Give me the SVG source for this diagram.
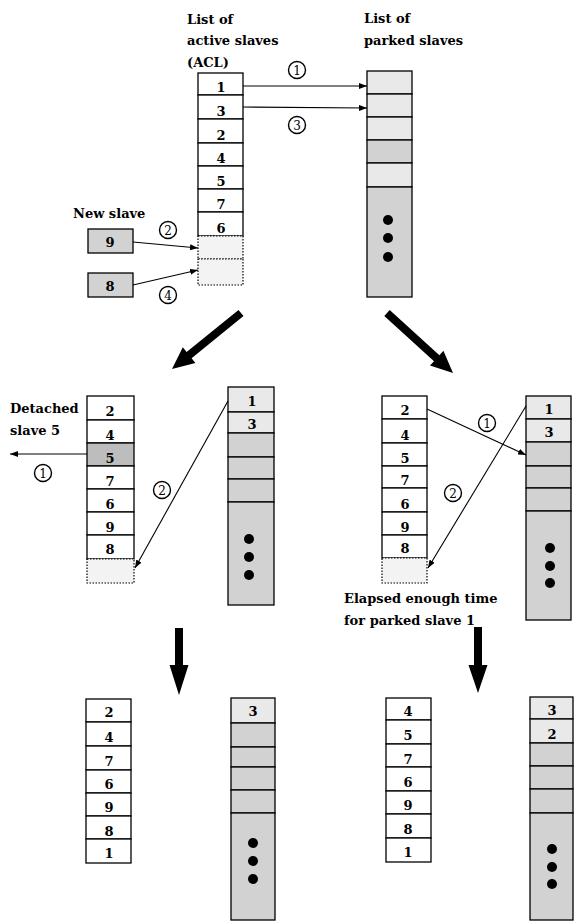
<svg xmlns="http://www.w3.org/2000/svg" width="574" height="922" viewBox="0 0 574 922">
<style>
.cell{fill:#fff;stroke:#000;stroke-width:1.3}
.light{fill:#e9e9e9;stroke:#000;stroke-width:1.3}
.grey{fill:#d2d2d2;stroke:#000;stroke-width:1.3}
.dark{fill:#bdbdbd;stroke:#000;stroke-width:1.3}
.empty{fill:#f3f3f3;stroke:#000;stroke-width:1.2;stroke-dasharray:1.5 1.5}
.num{font-family:"DejaVu Serif","Liberation Serif",serif;font-weight:bold;font-size:13px;text-anchor:middle;fill:#000}
.lbl{font-family:"DejaVu Serif","Liberation Serif",serif;font-weight:bold;font-size:13px;fill:#000}
.circ{fill:#fff;stroke:#000;stroke-width:1.4}
.ct{font-family:"DejaVu Serif","Liberation Serif",serif;font-size:12px;text-anchor:middle;fill:#000}
.conn{stroke:#000;stroke-width:1.1;fill:none;marker-end:url(#ah)}
.dot{fill:#000}
.big{fill:#000}
</style>
<defs>
<marker id="ah" markerWidth="8" markerHeight="6" refX="8" refY="3" orient="auto" markerUnits="userSpaceOnUse">
<path d="M0,0 L8,3 L0,6 z" fill="#000"/>
</marker>
</defs>

<!-- Labels -->
<g id="label-acl">
<text class="lbl" x="187" y="24">List of</text>
<text class="lbl" x="187" y="45">active slaves</text>
<text class="lbl" x="187" y="67">(ACL)</text>
</g>
<g id="label-parked">
<text class="lbl" x="364" y="23">List of</text>
<text class="lbl" x="364" y="45">parked slaves</text>
</g>
<g id="label-new"><text class="lbl" x="73" y="218">New slave</text></g>
<g id="label-detached">
<text class="lbl" x="10" y="413">Detached</text>
<text class="lbl" x="10" y="435">slave 5</text>
</g>
<g id="label-elapsed">
<text class="lbl" x="344" y="603">Elapsed enough time</text>
<text class="lbl" x="344" y="625">for parked slave 1</text>
</g>

<!-- Top ACL -->
<g id="acl-top">
<rect class="cell" x="198" y="73" width="45" height="22"/><text class="num" x="221" y="92">1</text>
<rect class="cell" x="198" y="95" width="45" height="24"/><text class="num" x="221" y="116">3</text>
<rect class="cell" x="198" y="119" width="45" height="24"/><text class="num" x="221" y="140">2</text>
<rect class="cell" x="198" y="143" width="45" height="23"/><text class="num" x="221" y="163">4</text>
<rect class="cell" x="198" y="166" width="45" height="23"/><text class="num" x="221" y="186">5</text>
<rect class="cell" x="198" y="189" width="45" height="23"/><text class="num" x="221" y="209">7</text>
<rect class="cell" x="198" y="212" width="45" height="24"/><text class="num" x="221" y="233">6</text>
<rect class="empty" x="198" y="236" width="45" height="23"/>
<rect class="empty" x="198" y="259" width="45" height="26"/>
</g>

<!-- Top parked -->
<g id="parked-top">
<rect class="light" x="367" y="71" width="45" height="23"/>
<rect class="light" x="367" y="94" width="45" height="23"/>
<rect class="light" x="367" y="117" width="45" height="23"/>
<rect class="grey" x="367" y="140" width="45" height="23"/>
<rect class="light" x="367" y="163" width="45" height="24"/>
<rect class="grey" x="367" y="187" width="45" height="110"/>
<circle class="dot" cx="388" cy="220" r="5"/>
<circle class="dot" cx="388" cy="238" r="5"/>
<circle class="dot" cx="388" cy="257" r="5"/>
</g>

<!-- New slaves -->
<g id="new-9"><rect class="grey" x="88" y="229" width="45" height="24"/><text class="num" x="110" y="247">9</text></g>
<g id="new-8"><rect class="grey" x="88" y="273" width="45" height="24"/><text class="num" x="110" y="291">8</text></g>

<!-- Middle left ACL -->
<g id="acl-mid-left">
<rect class="cell" x="87" y="396" width="47" height="24"/><text class="num" x="110" y="416">2</text>
<rect class="cell" x="87" y="420" width="47" height="23"/><text class="num" x="110" y="440">4</text>
<rect class="dark" x="87" y="443" width="47" height="23"/><text class="num" x="110" y="463">5</text>
<rect class="cell" x="87" y="466" width="47" height="23"/><text class="num" x="110" y="486">7</text>
<rect class="cell" x="87" y="489" width="47" height="23"/><text class="num" x="110" y="509">6</text>
<rect class="cell" x="87" y="512" width="47" height="23"/><text class="num" x="110" y="532">9</text>
<rect class="cell" x="87" y="535" width="47" height="24"/><text class="num" x="110" y="554">8</text>
<rect class="empty" x="87" y="559" width="47" height="24"/>
</g>

<!-- Middle left parked -->
<g id="parked-mid-left">
<rect class="light" x="228" y="387" width="46" height="25"/><text class="num" x="252" y="406">1</text>
<rect class="light" x="228" y="412" width="46" height="21"/><text class="num" x="252" y="429">3</text>
<rect class="grey" x="228" y="433" width="46" height="24"/>
<rect class="grey" x="228" y="457" width="46" height="22"/>
<rect class="grey" x="228" y="479" width="46" height="23"/>
<rect class="grey" x="228" y="502" width="46" height="103"/>
<circle class="dot" cx="249" cy="539" r="5"/>
<circle class="dot" cx="249" cy="557" r="5"/>
<circle class="dot" cx="249" cy="575" r="5"/>
</g>

<!-- Middle right ACL -->
<g id="acl-mid-right">
<rect class="cell" x="382" y="396" width="45" height="23"/><text class="num" x="405" y="415">2</text>
<rect class="cell" x="382" y="419" width="45" height="24"/><text class="num" x="405" y="440">4</text>
<rect class="cell" x="382" y="443" width="45" height="23"/><text class="num" x="405" y="463">5</text>
<rect class="cell" x="382" y="466" width="45" height="22"/><text class="num" x="405" y="485">7</text>
<rect class="cell" x="382" y="488" width="45" height="24"/><text class="num" x="405" y="509">6</text>
<rect class="cell" x="382" y="512" width="45" height="23"/><text class="num" x="405" y="532">9</text>
<rect class="cell" x="382" y="535" width="45" height="23"/><text class="num" x="405" y="553">8</text>
<rect class="empty" x="382" y="558" width="45" height="25"/>
</g>

<!-- Middle right parked -->
<g id="parked-mid-right">
<rect class="light" x="526" y="396" width="45" height="23"/><text class="num" x="549" y="414">1</text>
<rect class="light" x="526" y="419" width="45" height="23"/><text class="num" x="549" y="437">3</text>
<rect class="grey" x="526" y="442" width="45" height="24"/>
<rect class="grey" x="526" y="466" width="45" height="22"/>
<rect class="grey" x="526" y="488" width="45" height="23"/>
<rect class="grey" x="526" y="511" width="45" height="109"/>
<circle class="dot" cx="550" cy="548" r="5"/>
<circle class="dot" cx="550" cy="566" r="5"/>
<circle class="dot" cx="550" cy="583" r="5"/>
</g>

<!-- Bottom left ACL -->
<g id="acl-bot-left">
<rect class="cell" x="86" y="699" width="45" height="23"/><text class="num" x="109" y="717">2</text>
<rect class="cell" x="86" y="722" width="45" height="24"/><text class="num" x="109" y="742">4</text>
<rect class="cell" x="86" y="746" width="45" height="24"/><text class="num" x="109" y="766">7</text>
<rect class="cell" x="86" y="770" width="45" height="23"/><text class="num" x="109" y="789">6</text>
<rect class="cell" x="86" y="793" width="45" height="23"/><text class="num" x="109" y="812">9</text>
<rect class="cell" x="86" y="816" width="45" height="23"/><text class="num" x="109" y="836">8</text>
<rect class="cell" x="86" y="839" width="45" height="24"/><text class="num" x="109" y="858">1</text>
</g>

<!-- Bottom left parked -->
<g id="parked-bot-left">
<rect class="light" x="231" y="698" width="44" height="25"/><text class="num" x="253" y="716">3</text>
<rect class="grey" x="231" y="723" width="44" height="24"/>
<rect class="grey" x="231" y="747" width="44" height="20"/>
<rect class="grey" x="231" y="767" width="44" height="23"/>
<rect class="grey" x="231" y="790" width="44" height="23"/>
<rect class="grey" x="231" y="813" width="44" height="107"/>
<circle class="dot" cx="253" cy="843" r="5"/>
<circle class="dot" cx="253" cy="861" r="5"/>
<circle class="dot" cx="253" cy="879" r="5"/>
</g>

<!-- Bottom right ACL -->
<g id="acl-bot-right">
<rect class="cell" x="386" y="698" width="45" height="22"/><text class="num" x="408" y="716">4</text>
<rect class="cell" x="386" y="720" width="45" height="24"/><text class="num" x="408" y="740">5</text>
<rect class="cell" x="386" y="744" width="45" height="23"/><text class="num" x="408" y="764">7</text>
<rect class="cell" x="386" y="767" width="45" height="24"/><text class="num" x="408" y="787">6</text>
<rect class="cell" x="386" y="791" width="45" height="23"/><text class="num" x="408" y="810">9</text>
<rect class="cell" x="386" y="814" width="45" height="24"/><text class="num" x="408" y="834">8</text>
<rect class="cell" x="386" y="838" width="45" height="24"/><text class="num" x="408" y="857">1</text>
</g>

<!-- Bottom right parked -->
<g id="parked-bot-right">
<rect class="light" x="530" y="697" width="43" height="22"/><text class="num" x="552" y="715">3</text>
<rect class="light" x="530" y="719" width="43" height="24"/><text class="num" x="552" y="739">2</text>
<rect class="grey" x="530" y="743" width="43" height="23"/>
<rect class="grey" x="530" y="766" width="43" height="23"/>
<rect class="grey" x="530" y="789" width="43" height="24"/>
<rect class="grey" x="530" y="813" width="43" height="107"/>
<circle class="dot" cx="552" cy="849" r="5"/>
<circle class="dot" cx="552" cy="867" r="5"/>
<circle class="dot" cx="552" cy="884" r="5"/>
</g>

<!-- Connectors -->
<g id="connectors">
<line class="conn" x1="243" y1="86" x2="367" y2="86"/>
<line class="conn" x1="243" y1="107" x2="367" y2="108"/>
<line class="conn" x1="133" y1="242" x2="198" y2="248"/>
<line class="conn" x1="133" y1="285" x2="198" y2="270"/>
<line class="conn" x1="87" y1="454" x2="10" y2="454"/>
<line class="conn" x1="228" y1="401" x2="135" y2="568"/>
<line class="conn" x1="427" y1="409" x2="526" y2="455"/>
<line class="conn" x1="526" y1="406" x2="428" y2="568"/>
<polygon class="big" points="238.5,309.9 243.5,316.1 191.6,358.2 195.4,362.9 172,369 182.8,347.3 186.6,352"/>
<polygon class="big" points="389.7,310 384.3,316 434,361.2 430,365.6 453,373 443.4,350.8 439.4,355.2"/>
<polygon class="big" points="175,628 183,628 183,665 188.5,665 179,695 169.5,665 175,665"/>
<polygon class="big" points="474,627 482,627 482,665 487.5,665 478,693 468.5,665 474,665"/>
</g>

<!-- Step markers -->
<g id="step-top-1"><circle class="circ" cx="297" cy="70" r="8.5"/><text class="ct" x="297" y="74.5">1</text></g>
<g id="step-top-3"><circle class="circ" cx="297" cy="125" r="8.5"/><text class="ct" x="297" y="129.5">3</text></g>
<g id="step-top-2"><circle class="circ" cx="168" cy="230" r="8.5"/><text class="ct" x="168" y="234.5">2</text></g>
<g id="step-top-4"><circle class="circ" cx="168" cy="295" r="8.5"/><text class="ct" x="168" y="299.5">4</text></g>
<g id="step-ml-1"><circle class="circ" cx="43" cy="473" r="8.5"/><text class="ct" x="43" y="477.5">1</text></g>
<g id="step-ml-2"><circle class="circ" cx="162" cy="490" r="8.5"/><text class="ct" x="162" y="494.5">2</text></g>
<g id="step-mr-1"><circle class="circ" cx="487" cy="423" r="8.5"/><text class="ct" x="487" y="427.5">1</text></g>
<g id="step-mr-2"><circle class="circ" cx="453" cy="493" r="8.5"/><text class="ct" x="453" y="497.5">2</text></g>
</svg>
